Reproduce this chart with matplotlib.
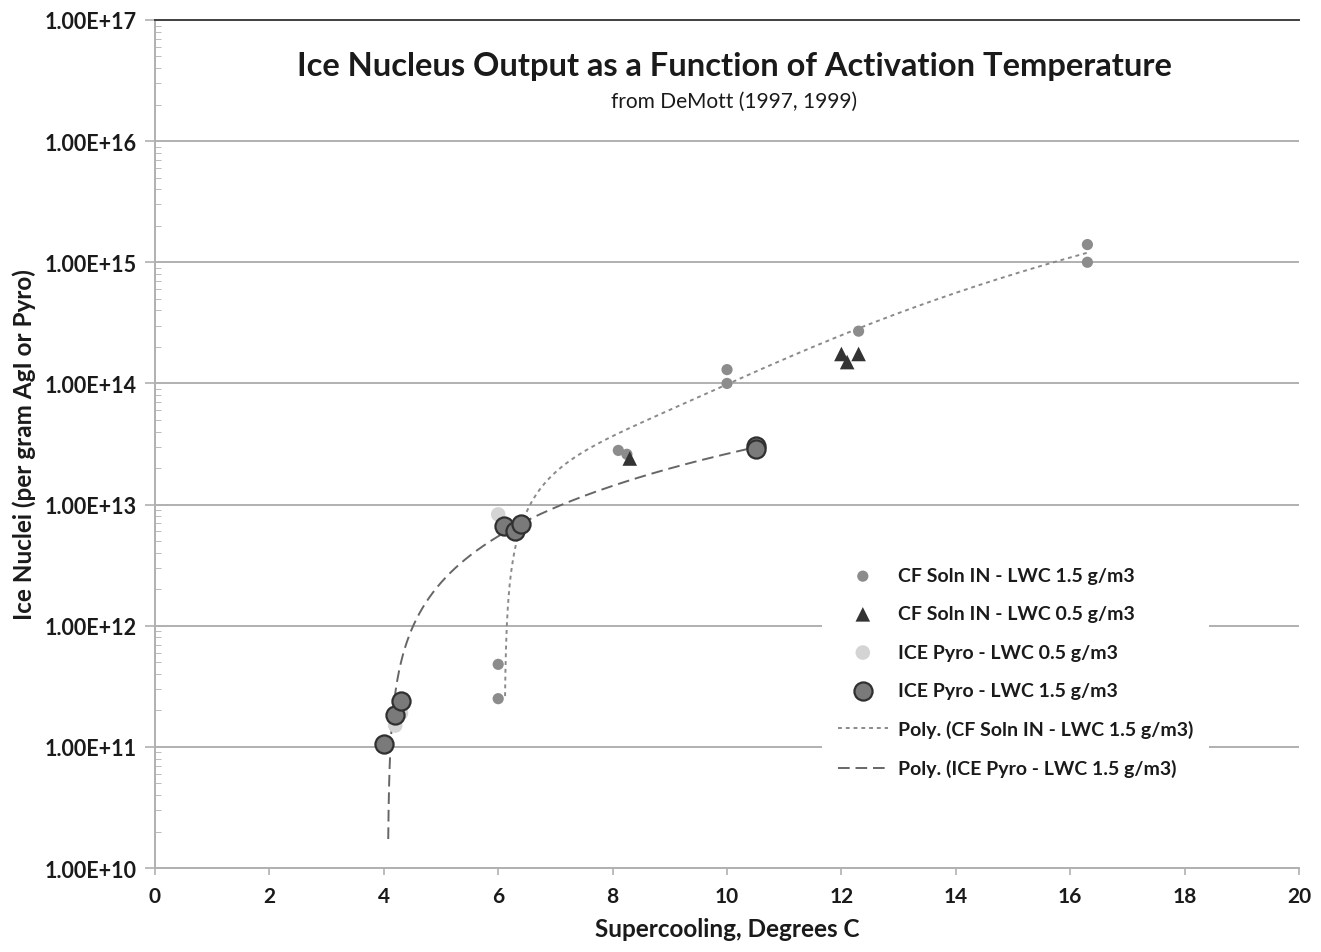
import numpy as np
import matplotlib
matplotlib.use("Agg")
import matplotlib.pyplot as plt
from matplotlib.ticker import FuncFormatter, FixedLocator, NullFormatter

plt.rcParams['font.family'] = ['Lato', 'DejaVu Sans']

# CF solution IN, LWC 1.5 g/m3
cf15_x = [6.0, 6.0, 8.1, 8.25, 10.0, 10.0, 12.3, 16.3, 16.3]
cf15_y = [4.8e11, 2.5e11, 2.8e13, 2.6e13, 1.3e14, 1.0e14, 2.7e14, 1.4e15, 1.0e15]

# CF solution IN, LWC 0.5 g/m3
cf05_x = [8.3, 12.0, 12.1, 12.3]
cf05_y = [2.4e13, 1.75e14, 1.5e14, 1.75e14]

# ICE pyro, LWC 0.5 g/m3
pyro05_x = [4.2, 4.3, 6.0]
pyro05_y = [1.5e11, 1.9e11, 8.3e12]

# ICE pyro, LWC 1.5 g/m3
pyro15_x = [4.0, 4.2, 4.3, 6.1, 6.3, 6.4, 10.5, 10.5]
pyro15_y = [1.05e11, 1.85e11, 2.4e11, 6.6e12, 6.0e12, 6.9e12, 3.05e13, 2.9e13]

x_ticks = list(range(0, 21, 2))
y_decades = list(range(10, 18))


def poly_trend(xs, ys, order, floor):
    # polynomial trend fitted in linear space, drawn on the log axis
    coef = np.polyfit(xs, ys, order)
    xx = np.linspace(min(xs), max(xs), 3000)
    yy = np.polyval(coef, xx)
    yy = np.where(yy > floor, yy, np.nan)
    return xx, yy


fig = plt.figure(figsize=(13.21, 9.53), dpi=100)
ax = fig.add_axes([0.1173, 0.0881, 0.8661, 0.8899])

ax.set_yscale('log')
ax.set_xlim(0, 20)
ax.set_ylim(1e10, 1e17)

ax.grid(True, axis='y', which='major', color='#b0b0b0', lw=1.4)
ax.set_axisbelow(True)

tx, ty = poly_trend(cf15_x, cf15_y, 3, 2.4e11)
ax.plot(tx, ty, color='#8a8a8a', lw=1.4, ls=(0, (2, 2)),
        label='Poly. (CF Soln IN - LWC 1.5 g/m3)', zorder=2)
tx, ty = poly_trend(pyro15_x, pyro15_y, 2, 1.5e10)
ax.plot(tx, ty, color='#666666', lw=1.4, ls=(0, (6, 3)),
        label='Poly. (ICE Pyro - LWC 1.5 g/m3)', zorder=2)

ax.scatter(cf15_x, cf15_y, s=65, color='#8c8c8c', edgecolors='none',
           label='CF Soln IN - LWC 1.5 g/m3', zorder=3)
ax.scatter(cf05_x, cf05_y, s=110, marker='^', color='#333333',
           edgecolors='none', label='CF Soln IN - LWC 0.5 g/m3', zorder=3)
ax.scatter(pyro05_x, pyro05_y, s=110, color='#d4d4d4', edgecolors='none',
           label='ICE Pyro - LWC 0.5 g/m3', zorder=3)
ax.scatter(pyro15_x, pyro15_y, s=170, color='#7a7a7a', edgecolors='#303030',
           linewidths=1.6, label='ICE Pyro - LWC 1.5 g/m3', zorder=4)

# decade ticks plus log minor ticks, only inside the plotted range
minor = [m * 10.0 ** d for d in y_decades[:-1] for m in range(2, 10)]
ax.set_xticks(x_ticks)
ax.yaxis.set_major_locator(FixedLocator([10.0 ** d for d in y_decades]))
ax.yaxis.set_minor_locator(FixedLocator(minor))
ax.yaxis.set_minor_formatter(NullFormatter())
ax.yaxis.set_major_formatter(FuncFormatter(lambda v, p: f'{v:.2E}'))

ax.tick_params(axis='y', which='major', length=7, color='#b0b0b0', width=1.2,
               labelsize=15.5, pad=6)
ax.tick_params(axis='y', which='minor', length=4, direction='in', color='#b0b0b0',
               labelleft=False)
ax.tick_params(axis='x', which='major', length=5, color='#b0b0b0', width=1.2,
               labelsize=15, pad=8)
for lab in ax.get_xticklabels() + ax.get_yticklabels():
    lab.set_fontweight('bold')
    lab.set_color('#1a1a1a')

for side in ('left', 'bottom'):
    ax.spines[side].set_color('#b0b0b0')
    ax.spines[side].set_linewidth(1.4)
ax.spines['top'].set_color('#404040')
ax.spines['top'].set_linewidth(1.4)
ax.spines['right'].set_visible(False)

ax.set_xlabel('Supercooling, Degrees C', fontsize=17.5, fontweight='bold',
              labelpad=8, color='#1a1a1a')
ax.set_ylabel('Ice Nuclei (per gram AgI or Pyro)', fontsize=17.5, fontweight='bold',
              labelpad=6, color='#1a1a1a')

fig.text(0.556, 0.930, 'Ice Nucleus Output as a Function of Activation Temperature',
         ha='center', va='center', fontsize=23.5, fontweight='bold', color='#1a1a1a')
fig.text(0.556, 0.893, 'from DeMott (1997, 1999)', ha='center', va='center',
         fontsize=15, color='#1a1a1a')

handles, labels = ax.get_legend_handles_labels()
order = [2, 3, 4, 5, 0, 1]
leg = ax.legend([handles[i] for i in order], [labels[i] for i in order],
                loc='upper left', bbox_to_anchor=(0.583, 0.373), frameon=True,
                facecolor='white', edgecolor='none', framealpha=1.0,
                labelspacing=1.09, handlelength=2.6, handletextpad=0.5,
                borderpad=0.8, borderaxespad=0.0,
                prop={'weight': 'bold', 'size': 14})
for t in leg.get_texts():
    t.set_color('#1a1a1a')
leg.set_zorder(5)

fig.savefig('out.png', dpi=100)
